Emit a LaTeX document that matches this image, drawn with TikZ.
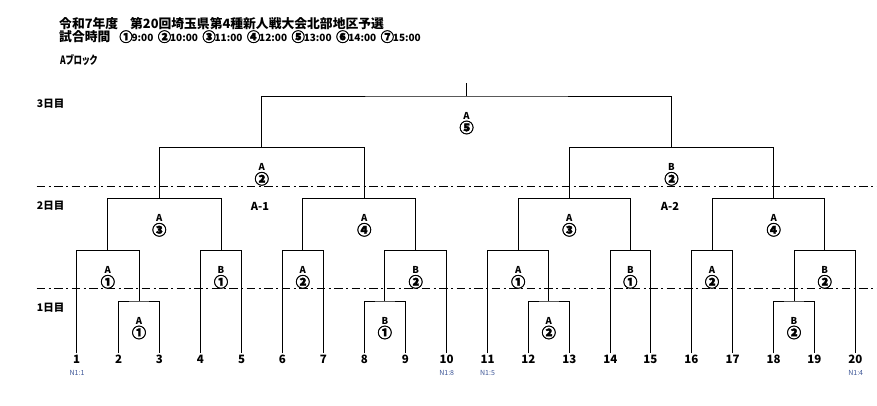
\documentclass[tikz,border=0pt]{standalone}
\usepackage{fontspec}
\usepackage{graphicx}
\setmainfont{Noto Sans CJK JP}
\newfontfamily\pj{Noto Sans CJK JP}[RawFeature=+palt]
\newfontfamily\circf{Noto Sans CJK JP}[FakeBold=2.5]
\definecolor{nblue}{RGB}{60,85,150}
\newcommand\lc[1]{\raisebox{-0.13em}{\scalebox{1.5}{\circf #1}}}
\newcommand\hc[1]{\kern-1pt\raisebox{-0.06em}{\scalebox{1.2}{\circf #1}}\kern-1pt}
\newcommand\tm[1]{{\fontsize{10}{12}\selectfont #1}}
\newcommand\mlab[3]{%
  \node[lab] (#1a) at ([yshift=-19.5pt]#1) {#2};
  \node[lab] (#1b) at ([yshift=-31.5pt]#1) {\lc{#3}};}
\newcommand\bk[3]{\draw[br] (#2) |- (#1) -| (#3);}
\begin{document}
\begin{tikzpicture}[x=1pt,y=-1pt,
  br/.style={line width=0.9pt},
  dd/.style={line width=0.8pt, dash pattern=on 8.5pt off 3.5pt on 2pt off 3.5pt},
  lab/.style={font=\bfseries\fontsize{9.5}{10}\selectfont, inner sep=0pt},
  num/.style={font=\bfseries\fontsize{11.5}{12}\selectfont, inner sep=0pt},
  nsub/.style={font=\fontsize{7}{8}\selectfont, text=nblue, inner sep=0pt},
  hdr/.style={font=\bfseries\fontsize{12.8}{13}\selectfont, anchor=west, inner sep=0pt},
  day/.style={font=\bfseries\fontsize{10.5}{11}\selectfont, anchor=west, inner sep=0pt}]
\useasboundingbox (0,0) rectangle (877,405);

% header
\node[hdr] (t1) at (59,23.5) {令和7年度\hspace{12pt}第20回埼玉県第4種新人戦大会北部地区予選};
\node[hdr] (t2) at (59,36.5) {試合時間\hspace{10pt}{\fontsize{11}{12}\selectfont\hc{①}\tm{9:00}\hspace{5.5pt}\hc{②}\tm{10:00}\hspace{5.5pt}\hc{③}\tm{11:00}\hspace{5.5pt}\hc{④}\tm{12:00}\hspace{5.5pt}\hc{⑤}\tm{13:00}\hspace{5.5pt}\hc{⑥}\tm{14:00}\hspace{5.5pt}\hc{⑦}\tm{15:00}}};
\node[day, font=\bfseries\fontsize{11.5}{12}\selectfont] (blk) at (60,60) {\pj\bfseries\scalebox{0.74}[1]{Aブロック}};

% day labels
\node[day] (d3) at (36.7,103.3) {3日目};
\node[day] (d2) at (36.7,206) {2日目};
\node[day] (d1) at (36.7,307.7) {1日目};

% day separators
\coordinate (s1l) at (36.7,186);   \coordinate (s1r) at (877,186);
\coordinate (s2l) at (36.7,288.3); \coordinate (s2r) at (877,288.3);
\draw[dd] (s1l) -- (s1r);
\draw[dd] (s2l) -- (s2r);

% leaves
\foreach \i/\x in {1/76.7,2/118.7,3/159.3,4/200.3,5/241.7,6/282.3,7/323.3,8/364.3,9/405.3,10/446.7,
                   11/487.7,12/528.3,13/569.3,14/610.3,15/650.3,16/691.3,17/732.7,18/773.7,19/814.3,20/855.3}{
  \coordinate (l\i) at (\x,353.3);
  \node[num] (n\i) at (\x,359.5) {\i};
}
\node[nsub] (c1) at (77,373.3) {N1:1};
\node[nsub] (c10) at (446.7,373.3) {N1:8};
\node[nsub] (c11) at (487.5,373.3) {N1:5};
\node[nsub] (c20) at (855.7,373.3) {N1:4};

% match points
\coordinate (m23) at (139,301);
\coordinate (m1) at (107.8,250.3);
\coordinate (m45) at (221,250.3);
\coordinate (m67) at (302.8,250.3);
\coordinate (m89) at (384.8,301);
\coordinate (m810) at (415.7,250.3);
\coordinate (q1) at (159.3,198.3);
\coordinate (q2) at (364.3,198.3);
\coordinate (sa) at (261.8,147.3);
\coordinate (m1213) at (548.8,301);
\coordinate (m11) at (518.2,250.3);
\coordinate (m1415) at (630.3,250.3);
\coordinate (m1617) at (712,250.3);
\coordinate (m1819) at (794,301);
\coordinate (m1820) at (824.7,250.3);
\coordinate (q3) at (569.3,198.3);
\coordinate (q4) at (773.7,198.3);
\coordinate (sb) at (671.5,147.3);
\coordinate (fin) at (466.6,96);
\coordinate (top) at (466.6,82.7);

% brackets
\bk{m23}{l2}{l3}
\bk{m1}{l1}{m23}
\bk{m45}{l4}{l5}
\bk{m67}{l6}{l7}
\bk{m89}{l8}{l9}
\bk{m810}{m89}{l10}
\bk{q1}{m1}{m45}
\bk{q2}{m67}{m810}
\bk{sa}{q1}{q2}
\bk{m1213}{l12}{l13}
\bk{m11}{l11}{m1213}
\bk{m1415}{l14}{l15}
\bk{m1617}{l16}{l17}
\bk{m1819}{l18}{l19}
\bk{m1820}{m1819}{l20}
\bk{q3}{m11}{m1415}
\bk{q4}{m1617}{m1820}
\bk{sb}{q3}{q4}
\bk{fin}{sa}{sb}
\draw[br] (fin) -- (top);

% match labels
\mlab{m23}{A}{①}
\mlab{m1}{A}{①}
\mlab{m45}{B}{①}
\mlab{m67}{A}{②}
\mlab{m89}{B}{①}
\mlab{m810}{B}{②}
\mlab{q1}{A}{③}
\mlab{q2}{A}{④}
\mlab{sa}{A}{②}
\mlab{m1213}{A}{②}
\mlab{m11}{A}{①}
\mlab{m1415}{B}{①}
\mlab{m1617}{A}{②}
\mlab{m1819}{B}{②}
\mlab{m1820}{B}{②}
\mlab{q3}{A}{③}
\mlab{q4}{A}{④}
\mlab{sb}{B}{②}
\mlab{fin}{A}{⑤}

\node[lab,font=\bfseries\fontsize{11}{12}\selectfont] (a1) at (260,206) {A-1};
\node[lab,font=\bfseries\fontsize{11}{12}\selectfont] (a2) at (670,206) {A-2};
\end{tikzpicture}
\end{document}
